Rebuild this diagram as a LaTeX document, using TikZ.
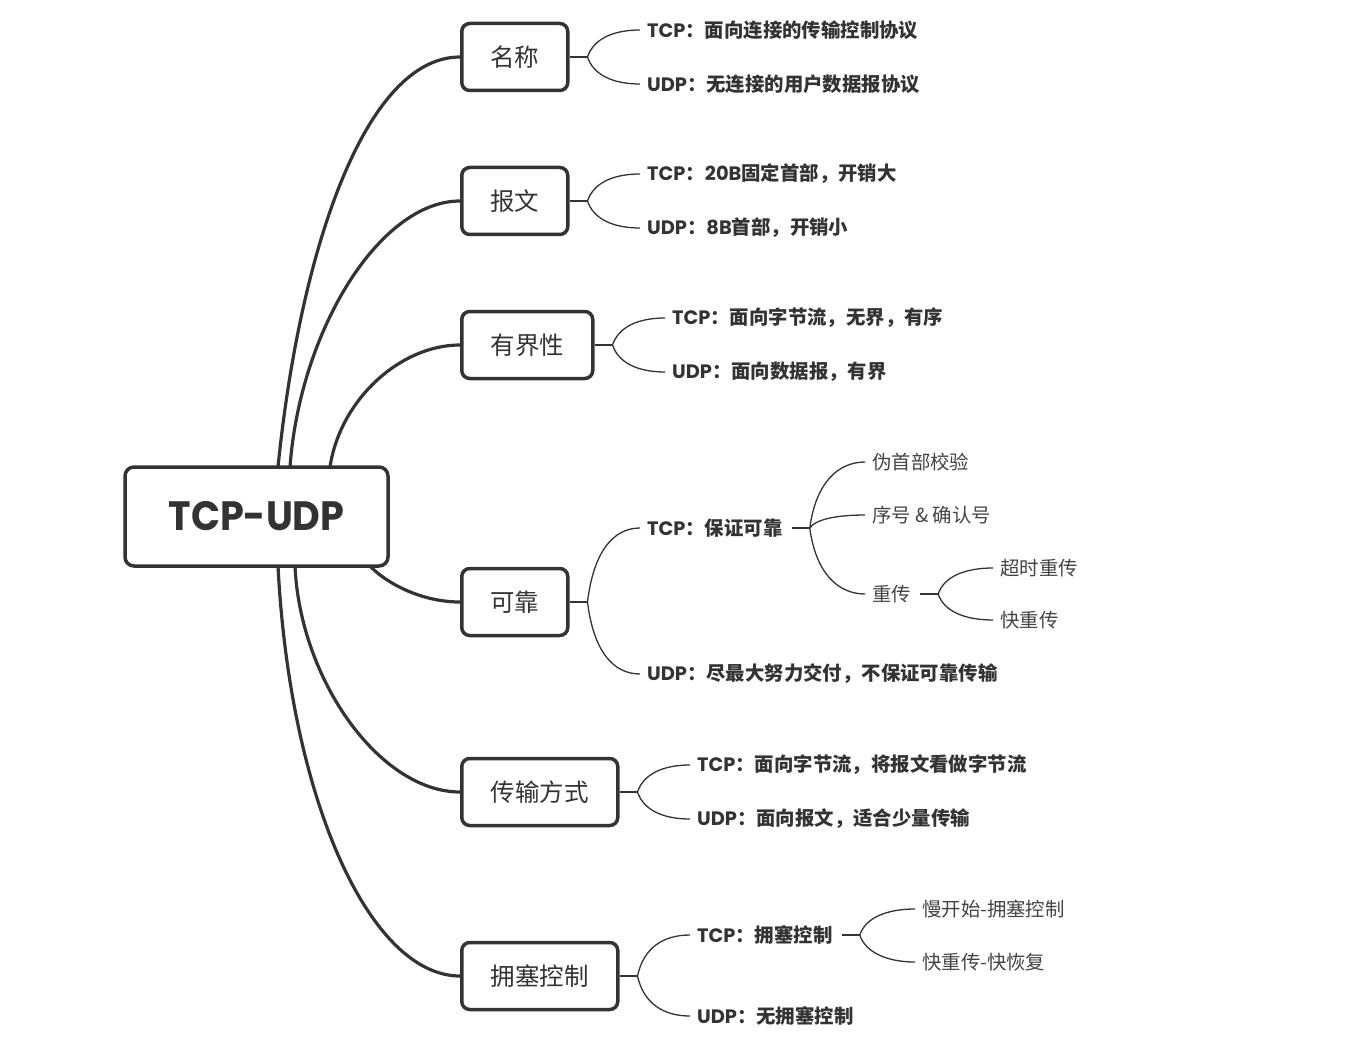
\documentclass[tikz,border=0pt]{standalone}
\usepackage{graphicx}
\usepackage{fontspec}
\setmainfont{Noto Sans CJK SC}
\newfontfamily\lat{Poppins}
\definecolor{ln}{HTML}{333333}
\definecolor{tx}{HTML}{333333}
\definecolor{tx3}{HTML}{444444}
\newcommand\brk[3]{\draw[br] (#1) .. controls +(6,#3) and +(-27,0) .. ([xshift=-7pt]#2.west);}
\begin{document}
\begin{tikzpicture}[x=1pt,y=1pt,
  rootbox/.style={draw=ln, line width=3.5pt, rounded corners=9pt, fill=white, text=tx,
    font=\fontsize{41}{44}\selectfont\lat\bfseries, minimum width=263pt, minimum height=99pt, inner sep=0},
  l1box/.style={draw=ln, line width=3.5pt, rounded corners=8pt, fill=white, text=tx,
    font=\fontsize{24.5}{28}\selectfont, minimum height=67pt, inner sep=0, anchor=west},
  l2/.style={anchor=west, inner sep=0, text=tx, font=\fontsize{19.4}{22}\selectfont\bfseries},
  l3/.style={anchor=west, inner sep=0, text=tx3, font=\fontsize{19.4}{22}\selectfont},
  trunk/.style={draw=ln, line width=3.2pt},
  br/.style={draw=ln, line width=1.3pt},
  stub/.style={draw=ln, line width=1.8pt}
]
\useasboundingbox (0,0) rectangle (1363,-1043);

% level 1 boxes
\node[l1box, minimum width=106pt] (mc) at (460,-57) {名称};
\node[l1box, minimum width=106pt] (bw) at (460,-201) {报文};
\node[l1box, minimum width=131pt] (yj) at (460,-345) {有界性};
\node[l1box, minimum width=106pt] (kk) at (460,-602) {可靠};
\node[l1box, minimum width=156pt] (cs) at (460,-792) {传输方式};
\node[l1box, minimum width=156pt] (yc) at (460,-976) {拥塞控制};

% trunk connectors
\coordinate (r1) at (278,-467);
\coordinate (r2) at (290,-467);
\coordinate (r3) at (330,-467);
\coordinate (r4) at (370,-566);
\coordinate (r5) at (295,-566);
\coordinate (r6) at (278,-566);
\draw[trunk] (r1) .. controls +(22,217) and +(-95,0) .. (mc.west);
\draw[trunk] (r2) .. controls +(10,137) and +(-80,0) .. (bw.west);
\draw[trunk] (r3) .. controls +(10,67) and +(-60,0) .. (yj.west);
\draw[trunk] (r4) .. controls +(15,-16) and +(-40,0) .. (kk.west);
\draw[trunk] (r5) .. controls +(5,-114) and +(-80,0) .. (cs.west);
\draw[trunk] (r6) .. controls +(12,-234) and +(-90,0) .. (yc.west);

% root (on top of trunk ends)
\node[rootbox] (root) at (256.5,-516.5) {\scalebox{0.93}[1]{TCP-UDP}};

% level 2 texts
\node[l2] (mc1) at (647,-30) {{\lat TCP}：面向连接的传输控制协议};
\node[l2] (mc2) at (647,-84) {{\lat UDP}：无连接的用户数据报协议};
\node[l2] (bw1) at (647,-174) {{\lat TCP}：{\lat 20B}固定首部，开销大};
\node[l2] (bw2) at (647,-228) {{\lat UDP}：{\lat 8B}首部，开销小};
\node[l2] (yj1) at (672,-318) {{\lat TCP}：面向字节流，无界，有序};
\node[l2] (yj2) at (672,-372) {{\lat UDP}：面向数据报，有界};
\node[l2] (kk1) at (647,-528) {{\lat TCP}：保证可靠};
\node[l2] (kk2) at (647,-674) {{\lat UDP}：尽最大努力交付，不保证可靠传输};
\node[l2] (cs1) at (697,-765) {{\lat TCP}：面向字节流，将报文看做字节流};
\node[l2] (cs2) at (697,-819) {{\lat UDP}：面向报文，适合少量传输};
\node[l2] (yc1) at (697,-935) {{\lat TCP}：拥塞控制};
\node[l2] (yc2) at (697,-1016) {{\lat UDP}：无拥塞控制};

% level 3 texts
\node[l3] (k1) at (872,-462) {伪首部校验};
\node[l3] (k2) at (872,-515) {序号 \& 确认号};
\node[l3] (k3) at (872,-594) {重传};
\node[l3] (k31) at (1000,-568) {超时重传};
\node[l3] (k32) at (1000,-620) {快重传};
\node[l3] (y1) at (922,-909) {慢开始-拥塞控制};
\node[l3] (y2) at (922,-962) {快重传-快恢复};

% branches from level-1 boxes
\draw[br] (mc.east) -- ++(18,0) coordinate (mcp);
\brk{mcp}{mc1}{18} \brk{mcp}{mc2}{-18}
\draw[br] (bw.east) -- ++(18,0) coordinate (bwp);
\brk{bwp}{bw1}{18} \brk{bwp}{bw2}{-18}
\draw[br] (yj.east) -- ++(18,0) coordinate (yjp);
\brk{yjp}{yj1}{18} \brk{yjp}{yj2}{-18}
\draw[br] (kk.east) -- ++(18,0) coordinate (kkp);
\brk{kkp}{kk1}{50} \brk{kkp}{kk2}{-49}
\draw[br] (cs.east) -- ++(18,0) coordinate (csp);
\brk{csp}{cs1}{18} \brk{csp}{cs2}{-18}
\draw[br] (yc.east) -- ++(18,0) coordinate (ycp);
\brk{ycp}{yc1}{28} \brk{ycp}{yc2}{-27}

% sub-branches
\draw[stub] ([xshift=9pt]kk1.east) -- ++(18,0) coordinate (kk1p);
\brk{kk1p}{k1}{45} \brk{kk1p}{k2}{9} \brk{kk1p}{k3}{-45}
\draw[stub] ([xshift=9pt]k3.east) -- ++(18,0) coordinate (k3p);
\brk{k3p}{k31}{18} \brk{k3p}{k32}{-18}
\draw[stub] ([xshift=9pt]yc1.east) -- ++(18,0) coordinate (yc1p);
\brk{yc1p}{y1}{18} \brk{yc1p}{y2}{-18}
\end{tikzpicture}
\end{document}
